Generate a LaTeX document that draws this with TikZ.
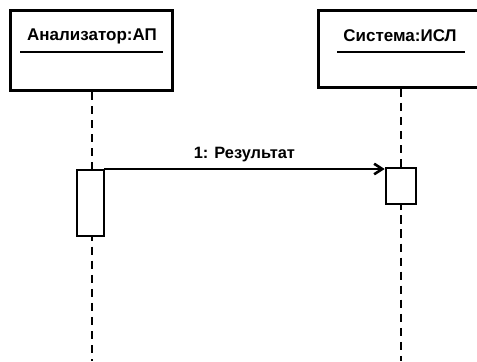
\documentclass[tikz,border=0pt]{standalone}
\usepackage{fontspec}
\setmainfont{Liberation Sans}
\usetikzlibrary{arrows.meta, positioning}
\tikzset{
  objbox/.style={draw, line width=2.6pt, minimum width=4.85cm, minimum height=2.4cm, inner sep=0pt},
  actbox/.style={draw, line width=2.2pt, fill=white, inner sep=0pt},
  objname/.style={font=\bfseries\fontsize{14.5}{16}\selectfont, inner sep=1pt},
  lifeline/.style={line width=2.2pt, dash pattern=on 7pt off 5pt},
  msg/.style={line width=2.2pt, -{Straight Barb[length=7pt, width=9pt, line width=2.2pt]}}
}
\begin{document}
\begin{tikzpicture}[x=0.03cm, y=-0.03cm]
\useasboundingbox (0,0) rectangle (477,361);

% --- objects ---
\node[objbox] (analyzer) at (91.5,50.5) {};
\node[objbox, minimum width=4.85cm, minimum height=2.3cm] (system) at (399.5,49) {};
\node[objname] (analyzer-name) at (92,36) {Анализатор:АП};
\node[objname] (system-name) at (400,36) {Система:ИСЛ};
\draw[line width=1.8pt] (20,52) -- (163,52);
\draw[line width=1.8pt] (337,52) -- (465,52);

% --- lifelines ---
\coordinate (analyzer-end) at (92,361);
\coordinate (system-end) at (401,361);
\draw[lifeline] (analyzer.south -| analyzer-end) -- (analyzer-end);
\draw[lifeline] (system.south -| system-end) -- (system-end);

% --- activations ---
\node[actbox, minimum width=0.81cm, minimum height=1.98cm] (analyzer-act) at (90.5,203) {};
\node[actbox, minimum width=0.9cm, minimum height=1.08cm] (system-act) at (401,186) {};

% --- message ---
\coordinate (msg-start) at (104,169);
\draw[msg] (msg-start) -- (msg-start -| system-act.west)
  node[midway, above=2pt, font=\bfseries\fontsize{14}{16}\selectfont] (msg-label) {1: Результат};

\end{tikzpicture}
\end{document}
